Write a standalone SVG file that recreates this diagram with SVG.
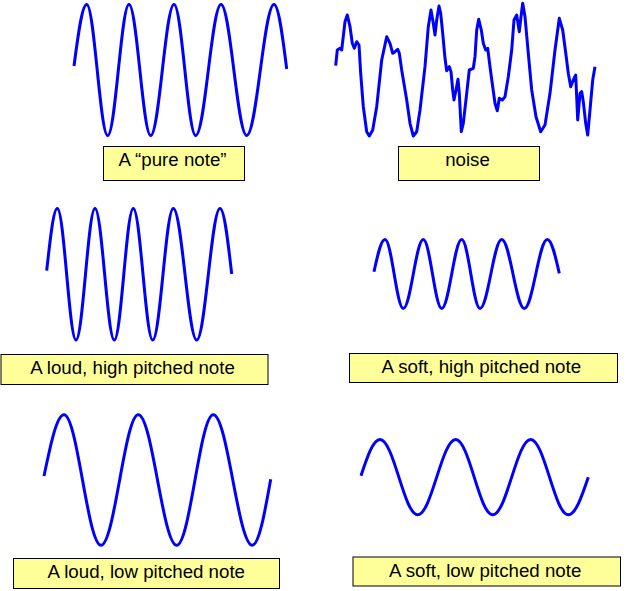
<svg xmlns="http://www.w3.org/2000/svg" width="636" height="591" viewBox="0 0 636 591">
<style>
.wave{fill:none;stroke:#0000ff;stroke-width:3;stroke-linejoin:round;stroke-linecap:butt}
.box{fill:#ffff99;stroke:#000000;stroke-width:1}
.lbl{font-family:"Liberation Sans",Arial,sans-serif;font-size:18.7px;fill:#000000;text-anchor:middle}
</style>
<rect x="0" y="0" width="636" height="591" fill="#ffffff"/>
<g id="pure-note">
<path class="wave" d="M74,66 C78.24,33.7 82.13,4.5 86.7,4.5 C94.33,4.5 100.07,135.5 107.7,135.5 C115.44,135.5 121.26,4.5 129,4.5 C136.89,4.5 142.81,135.5 150.7,135.5 C159.17,135.5 165.53,4.5 174,4.5 C181.89,4.5 187.81,135.5 195.7,135.5 C204.89,135.5 211.81,4.5 221,4.5 C230.34,4.5 237.36,135.5 246.7,135.5 C256.62,135.5 264.08,4.5 274,4.5 C278.57,4.5 282.46,35.1 286.7,69"/>
<rect class="box" x="103.5" y="146.5" width="141" height="34"/>
<text class="lbl" x="172.5" y="166">A “pure note”</text>
</g>
<g id="noise">
<polyline class="wave" points="335.7,65.7 337.3,50 340,48.3 341.7,50 345,21.7 347.3,15 350,26.7 352.3,43.3 354.3,48.3 356.7,41.7 359,45 360.7,73.3 363.3,106.7 366.7,131.7 369.3,136 372.7,130 376.7,106.7 381.7,60 386.7,36.7 390,43.3 392.7,53.3 395,51.7 397.7,49.3 399.3,53.3 401.7,70 406.7,100 410,123.3 413.3,136 416.7,131.7 420,110 425,66.7 428.3,26.7 431,10 433.3,23.3 435,35 436.7,20 439,6 440.7,13.3 442.7,33.3 445,58.3 446.7,70.7 449.3,66.7 451,71.7 452.7,90 454,100 456,90 458,79.3 459.3,93.3 461.3,131.7 463.3,123.3 466.7,93.3 469.3,70 473.3,68.3 475,56.7 476.7,30 478.7,19.3 481.3,30 483.3,43.3 485.7,50 487.7,48.3 490,66.7 492.7,86.7 495,103.3 497.3,110.7 499.3,98.3 502.3,100 505,96.7 508.3,76.7 511.7,50 514,20 516.7,15 519.3,31.7 521,16.7 522.7,3.3 525,16.7 528.3,53.3 531.7,90 536,116.7 540.7,131.7 545,125 550,93.3 555,50 559.3,18.3 562.7,30 566,55 568.3,73.3 570.7,86.7 573.3,80 575.7,75 577.7,120 580,93.3 581.7,91.7 583.3,101.7 585.7,123.3 587.7,135 590,110 592.7,80 595,66.7"/>
<rect class="box" x="398.5" y="146.5" width="141" height="34"/>
<text class="lbl" x="467.5" y="166">noise</text>
</g>
<g id="loud-high">
<path class="wave" d="M46.7,270.7 C50.24,238.04 53.48,208.5 57.3,208.5 C64.1,208.5 69.2,340 76,340 C82.9,340 88.1,208.5 95,208.5 C102.01,208.5 107.29,340 114.3,340 C121.2,340 126.4,208.5 133.3,208.5 C140.35,208.5 145.65,340 152.7,340 C160.19,340 165.81,208.5 173.3,208.5 C181.8,208.5 188.2,340 196.7,340 C205.17,340 211.53,208.5 220,208.5 C224.21,208.5 227.79,239.61 231.7,274"/>
<rect class="box" x="1" y="354.5" width="267" height="30"/>
<text class="lbl" x="132.5" y="374">A loud, high pitched note</text>
</g>
<g id="soft-high">
<path class="wave" d="M374,271.7 C377.67,254.8 381.04,239.5 385,239.5 C391.65,239.5 396.65,308.5 403.3,308.5 C410.57,308.5 416.03,239.5 423.3,239.5 C429.99,239.5 435.01,308.5 441.7,308.5 C448.97,308.5 454.43,239.5 461.7,239.5 C468.35,239.5 473.35,308.5 480,308.5 C487.89,308.5 493.81,239.5 501.7,239.5 C509.91,239.5 516.09,308.5 524.3,308.5 C532.66,308.5 538.94,239.5 547.3,239.5 C551.62,239.5 555.29,255.55 559.3,273.3"/>
<rect class="box" x="349.5" y="353.5" width="268" height="29"/>
<text class="lbl" x="481.3" y="372.7">A soft, high pitched note</text>
</g>
<g id="loud-low">
<path class="wave" d="M44,476 C50.68,443.87 56.8,414.8 64,414.8 C77.45,414.8 87.55,545.2 101,545.2 C114.55,545.2 124.75,414.8 138.3,414.8 C152.25,414.8 162.75,545.2 176.7,545.2 C190,545.2 200,414.8 213.3,414.8 C227.47,414.8 238.13,545.2 252.3,545.2 C258.92,545.2 264.55,513.9 270.7,479.3"/>
<rect class="box" x="13.5" y="558.5" width="266" height="30"/>
<text class="lbl" x="146.3" y="577.7">A loud, low pitched note</text>
</g>
<g id="soft-low">
<path class="wave" d="M361,475.7 C367.35,456.7 373.16,439.5 380,439.5 C393.7,439.5 404,514.8 417.7,514.8 C431.51,514.8 441.89,439.5 455.7,439.5 C469.15,439.5 479.25,514.8 492.7,514.8 C506.51,514.8 516.89,439.5 530.7,439.5 C544.36,439.5 554.64,514.8 568.3,514.8 C575.5,514.8 581.62,496.99 588.3,477.3"/>
<rect class="box" x="353" y="557" width="267.5" height="29"/>
<text class="lbl" x="485.2" y="576.7">A soft, low pitched note</text>
</g>
<g id="connectors"></g>
</svg>
